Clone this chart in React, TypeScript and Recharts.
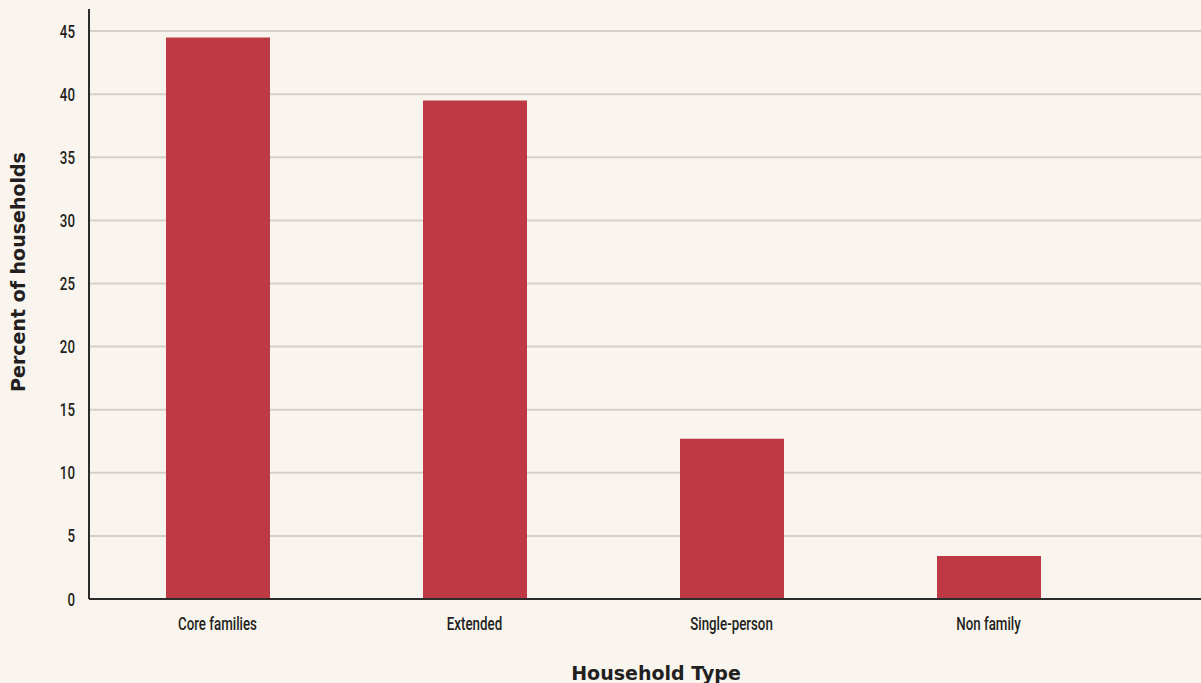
import { BarChart, Bar, XAxis, YAxis, CartesianGrid, Label } from "recharts";

const householdTypes = ["Core families", "Extended", "Single-person", "Non family"];
const percentValues = [44.5, 39.5, 12.7, 3.4];
const yTicks = [0, 5, 10, 15, 20, 25, 30, 35, 40, 45];

const data = householdTypes.map((type, i) => ({ type, percent: percentValues[i] }));

// narrow tick labels, squeezed horizontally to mimic the condensed face
const CondensedTick = (props: any) => {
  const { x, y, payload, textAnchor, axis } = props;
  return (
    <text
      x={0}
      y={0}
      transform={`translate(${x},${y}) scale(0.74,1)`}
      dy={axis === "x" ? 15 : 6.5}
      textAnchor={textAnchor}
      fontFamily="Roboto, sans-serif"
      fontWeight={500}
      fontSize={18}
      fill="#231f20"
    >
      {payload.value}
    </text>
  );
};

const App = () => {
  return (
    <div style={{ position: "absolute", left: 0, top: 0, width: 1201, height: 683, background: "#f9f5ee" }}>
      <BarChart
        width={1201}
        height={683}
        data={data}
        margin={{ top: 9, right: 0, left: 0, bottom: 0 }}
      >
        <CartesianGrid vertical={false} stroke="#d5cfc9" strokeWidth={2} syncWithTicks />
        <XAxis
          dataKey="type"
          height={84}
          padding={{ left: 0, right: 84 }}
          tickLine={false}
          axisLine={{ stroke: "#2b2b2b", strokeWidth: 2 }}
          tick={<CondensedTick axis="x" />}
          tickMargin={10}
        >
          <Label
            value="Household Type"
            position="insideBottom"
            offset={3}
            dx={11}
            style={{ fontFamily: "'DejaVu Sans', sans-serif", fontWeight: "bold", fontSize: 19, fill: "#231f20" }}
          />
        </XAxis>
        <YAxis
          width={89}
          domain={[0, 46.75]}
          ticks={yTicks}
          interval={0}
          tickLine={false}
          axisLine={{ stroke: "#2b2b2b", strokeWidth: 2 }}
          tick={<CondensedTick axis="y" />}
          tickMargin={8}
        >
          <Label
            value="Percent of households"
            angle={-90}
            position="insideLeft"
            offset={0}
            dx={18}
            dy={-32}
            style={{ textAnchor: "middle", fontFamily: "'DejaVu Sans', sans-serif", fontWeight: "bold", fontSize: 19, fill: "#231f20" }}
          />
        </YAxis>
        <Bar dataKey="percent" fill="#bd3a44" barSize={104} isAnimationActive={false} />
      </BarChart>
    </div>
  );
};

export default App;
